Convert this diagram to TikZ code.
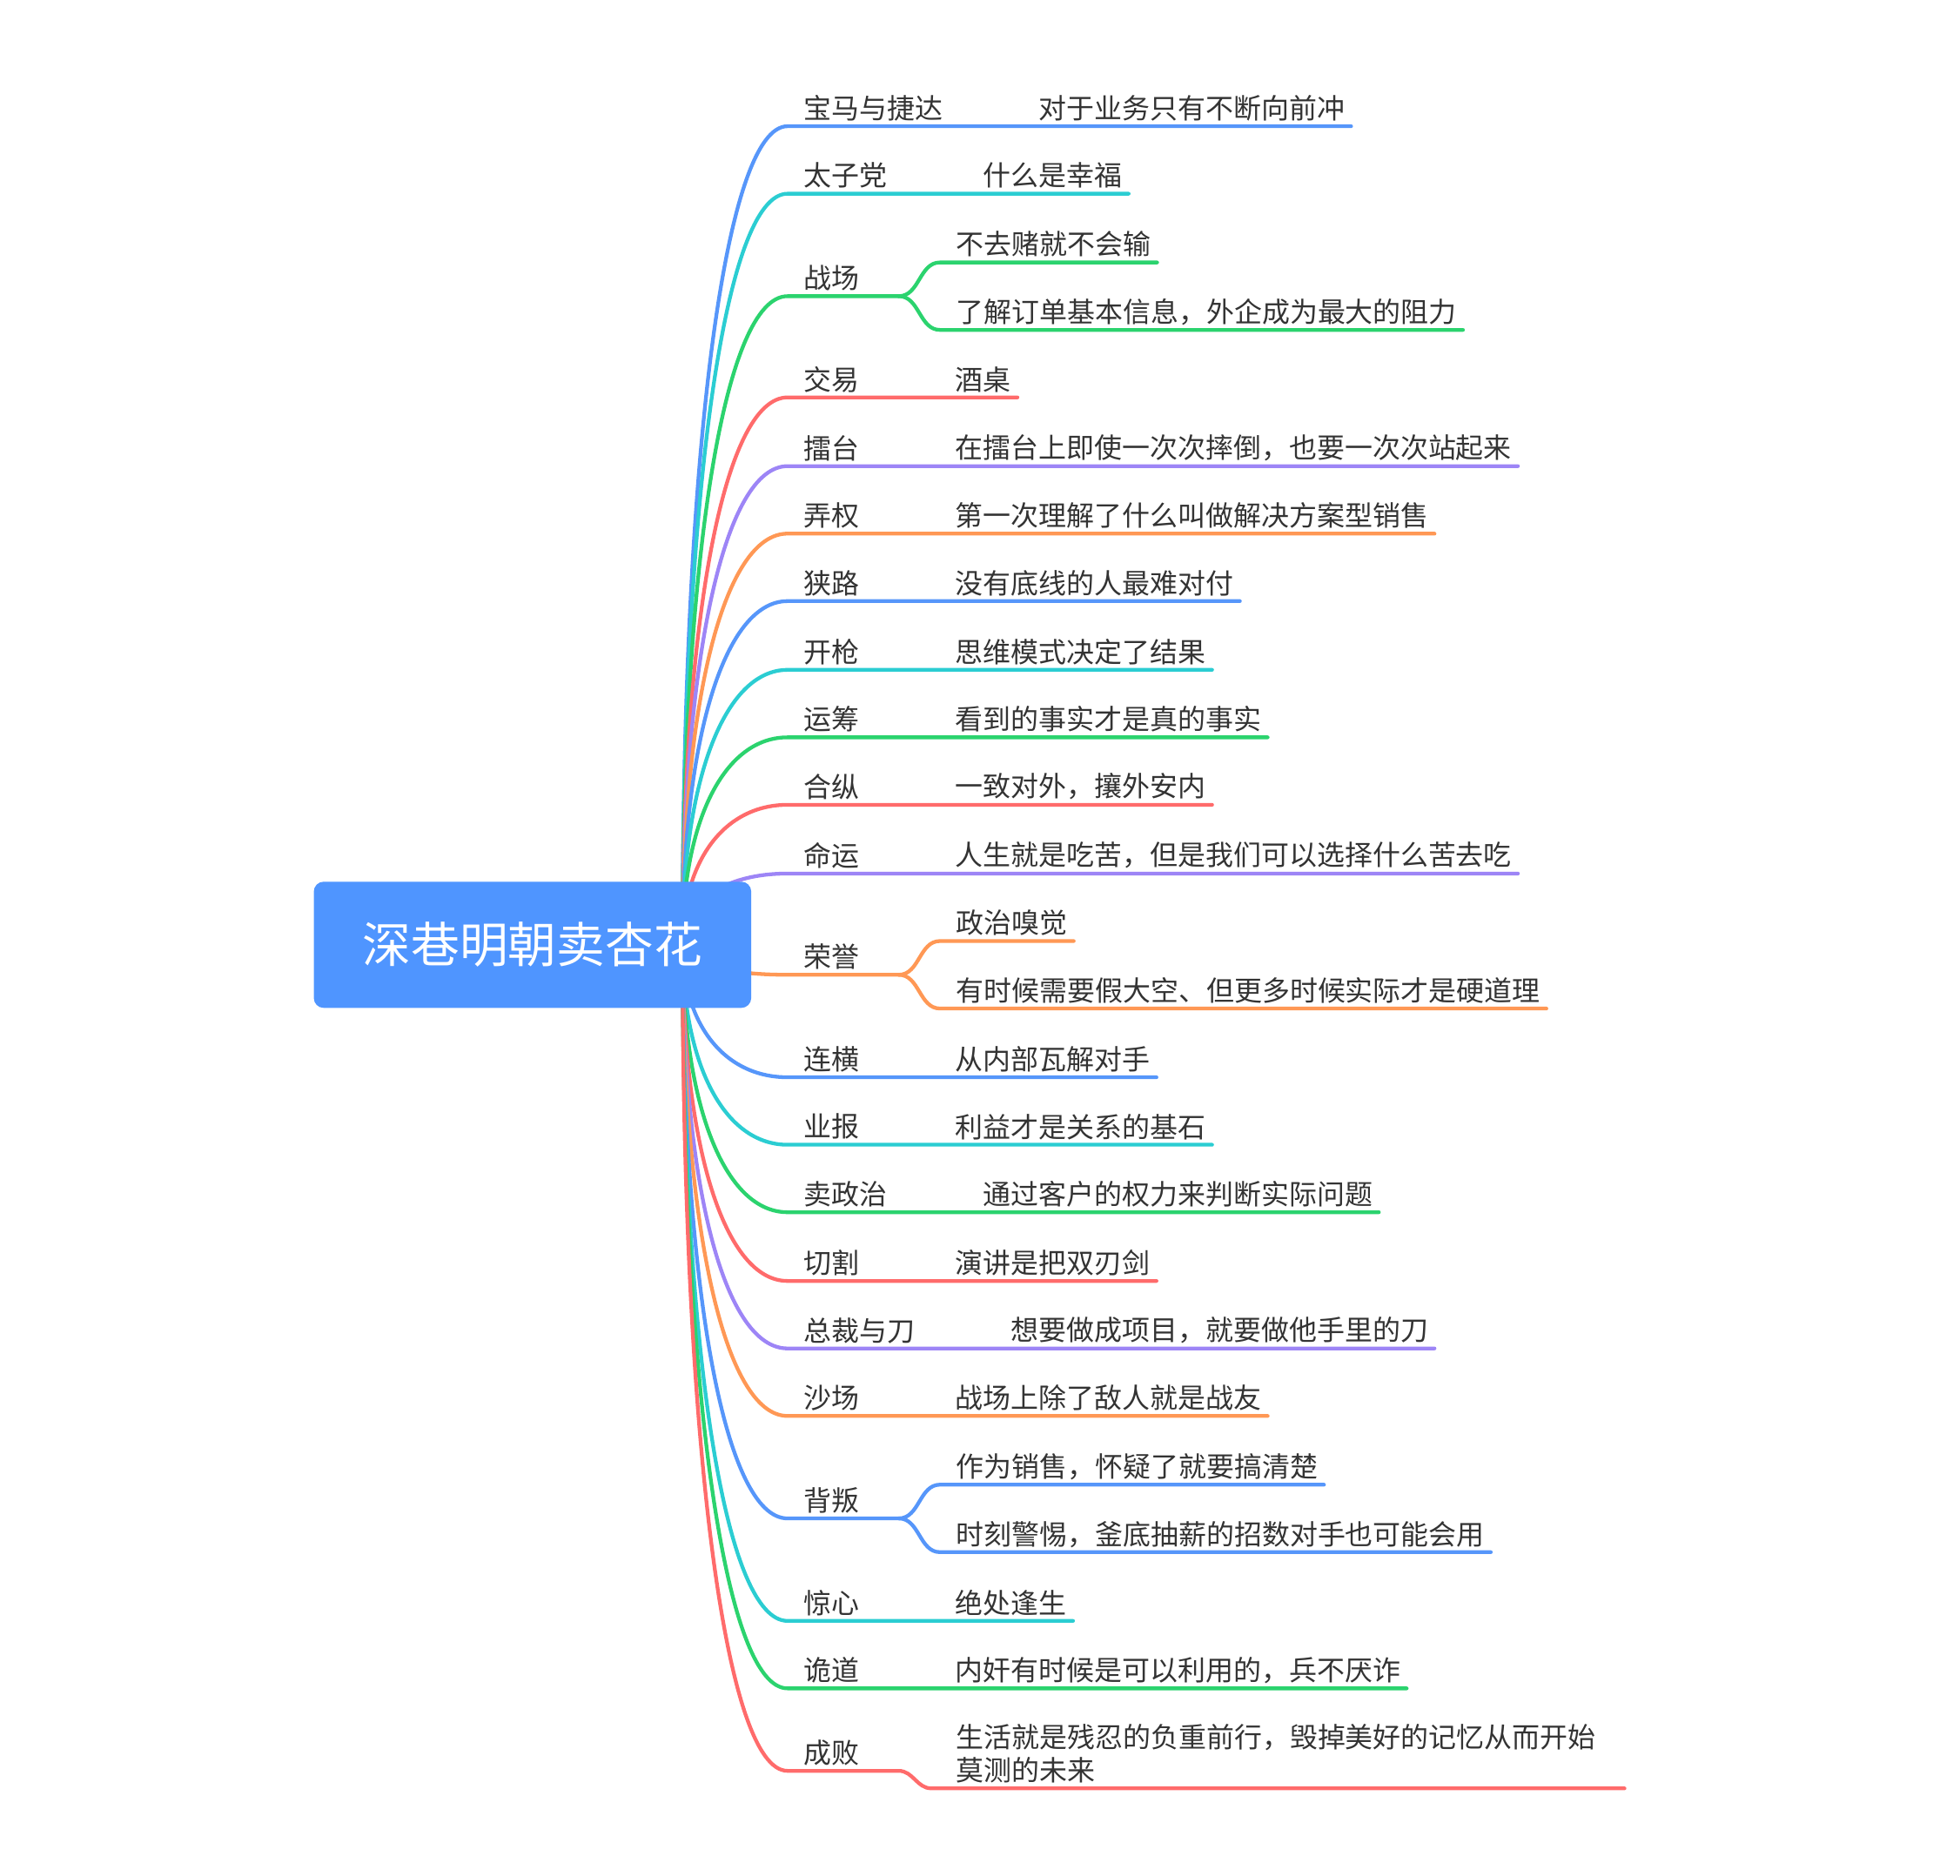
\documentclass[tikz,border=0pt]{standalone}
\usepackage{fontspec}
\setmainfont{Noto Sans CJK SC}
\usepackage{xcolor}
\definecolor{mmroot}{RGB}{79,149,255}
\definecolor{mmblue}{RGB}{86,150,250}
\definecolor{mmcyan}{RGB}{43,205,210}
\definecolor{mmgreen}{RGB}{43,211,110}
\definecolor{mmred}{RGB}{255,107,107}
\definecolor{mmpurple}{RGB}{157,133,246}
\definecolor{mmorange}{RGB}{255,152,85}
\definecolor{mmtext}{RGB}{51,51,51}
\usetikzlibrary{calc, positioning}

\begin{document}
\begin{tikzpicture}[
    x=0.02cm, y=-0.02cm,
    rama/.style={text=mmtext, font=\fontsize{12.66pt}{15.3pt}\selectfont, inner sep=0pt, outer sep=0pt},
    etiq/.style={rama, anchor=base west},
    hoja/.style={rama, right=1.54cm of #1},
    raiz/.style={fill=mmroot, text=white, rounded corners=4.5pt, minimum width=7cm, minimum height=2.02cm,
        inner sep=0pt, font=\fontsize{22.1pt}{26pt}\selectfont},
    linea/.style={line width=1.7pt, line cap=round, line join=round},
    lblue/.style={linea, draw=mmblue},
    lcyan/.style={linea, draw=mmcyan},
    lgreen/.style={linea, draw=mmgreen},
    lred/.style={linea, draw=mmred},
    lpurple/.style={linea, draw=mmpurple},
    lorange/.style={linea, draw=mmorange},
    trunk/.style={to path={.. controls ($(\tikztostart)!0.6!(\tikztostart |- \tikztotarget)$)
        and ($(\tikztotarget)!0.6!(\tikztostart |- \tikztotarget)$) .. (\tikztotarget)}}
]
\useasboundingbox (0,0) rectangle (1568,1501);

% === Punto de salida de todas las ramas (tapado por la raiz) ===
\coordinate (hub) at (546,756);

% === Ramas de arriba ===
% 1
\coordinate (b1) at (630,101);
\node[etiq] (l1) at (643,95) {宝马与捷达};
\node[hoja=l1] (c1) {对于业务只有不断向前冲};
\draw[lblue] (hub) to[trunk] (b1) -- ($(c1.east |- b1)+(5,0)$);

% 2
\coordinate (b2) at (630,155);
\node[etiq] (l2) at (643,149) {太子党};
\node[hoja=l2] (c2) {什么是幸福};
\draw[lcyan] (hub) to[trunk] (b2) -- ($(c2.east |- b2)+(5,0)$);

% 3 (dos hojas)
\coordinate (b3) at (630,237);
\coordinate (j3) at (719,237);
\coordinate (k3a) at (752,210);
\coordinate (k3b) at (752,264);
\node[etiq] (l3) at (643,231) {战场};
\node[etiq] (c3a) at (765,204) {不去赌就不会输};
\node[etiq] (c3b) at (765,258) {了解订单基本信息，外企成为最大的阻力};
\draw[lgreen] (hub) to[trunk] (b3) -- (j3);
\draw[lgreen] (j3) to[out=0, in=180] (k3a) -- ($(c3a.east |- k3a)+(5,0)$);
\draw[lgreen] (j3) to[out=0, in=180] (k3b) -- ($(c3b.east |- k3b)+(5,0)$);

% 4
\coordinate (b4) at (630,318);
\node[etiq] (l4) at (643,312) {交易};
\node[hoja=l4] (c4) {酒桌};
\draw[lred] (hub) to[trunk] (b4) -- ($(c4.east |- b4)+(5,0)$);

% 5
\coordinate (b5) at (630,373);
\node[etiq] (l5) at (643,367) {擂台};
\node[hoja=l5] (c5) {在擂台上即使一次次摔倒，也要一次次站起来};
\draw[lpurple] (hub) to[trunk] (b5) -- ($(c5.east |- b5)+(5,0)$);

% 6
\coordinate (b6) at (630,427);
\node[etiq] (l6) at (643,421) {弄权};
\node[hoja=l6] (c6) {第一次理解了什么叫做解决方案型销售};
\draw[lorange] (hub) to[trunk] (b6) -- ($(c6.east |- b6)+(5,0)$);

% 7
\coordinate (b7) at (630,481);
\node[etiq] (l7) at (643,475) {狭路};
\node[hoja=l7] (c7) {没有底线的人最难对付};
\draw[lblue] (hub) to[trunk] (b7) -- ($(c7.east |- b7)+(5,0)$);

% 8
\coordinate (b8) at (630,536);
\node[etiq] (l8) at (643,530) {开枪};
\node[hoja=l8] (c8) {思维模式决定了结果};
\draw[lcyan] (hub) to[trunk] (b8) -- ($(c8.east |- b8)+(5,0)$);

% 9
\coordinate (b9) at (630,590);
\node[etiq] (l9) at (643,584) {运筹};
\node[hoja=l9] (c9) {看到的事实才是真的事实};
\draw[lgreen] (hub) to[trunk] (b9) -- ($(c9.east |- b9)+(5,0)$);

% 10
\coordinate (b10) at (630,644);
\node[etiq] (l10) at (643,638) {合纵};
\node[hoja=l10] (c10) {一致对外，攘外安内};
\draw[lred] (hub) to[trunk] (b10) -- ($(c10.east |- b10)+(5,0)$);

% 11
\coordinate (b11) at (630,699);
\node[etiq] (l11) at (643,693) {命运};
\node[hoja=l11] (c11) {人生就是吃苦，但是我们可以选择什么苦去吃};
\draw[lpurple] (hub) to[trunk] (b11) -- ($(c11.east |- b11)+(5,0)$);

% === Ramas de abajo ===
% 12 (dos hojas)
\coordinate (b12) at (630,780);
\coordinate (j12) at (719,780);
\coordinate (k12a) at (752,753);
\coordinate (k12b) at (752,807);
\node[etiq] (l12) at (643,774) {荣誉};
\node[etiq] (c12a) at (765,747) {政治嗅觉};
\node[etiq] (c12b) at (765,801) {有时候需要假大空、但更多时候实际才是硬道理};
\draw[lorange] (hub) to[trunk] (b12) -- (j12);
\draw[lorange] (j12) to[out=0, in=180] (k12a) -- ($(c12a.east |- k12a)+(5,0)$);
\draw[lorange] (j12) to[out=0, in=180] (k12b) -- ($(c12b.east |- k12b)+(5,0)$);

% 13
\coordinate (b13) at (630,862);
\node[etiq] (l13) at (643,856) {连横};
\node[hoja=l13] (c13) {从内部瓦解对手};
\draw[lblue] (hub) to[trunk] (b13) -- ($(c13.east |- b13)+(5,0)$);

% 14
\coordinate (b14) at (630,916);
\node[etiq] (l14) at (643,910) {业报};
\node[hoja=l14] (c14) {利益才是关系的基石};
\draw[lcyan] (hub) to[trunk] (b14) -- ($(c14.east |- b14)+(5,0)$);

% 15
\coordinate (b15) at (630,970);
\node[etiq] (l15) at (643,964) {卖政治};
\node[hoja=l15] (c15) {通过客户的权力来判断实际问题};
\draw[lgreen] (hub) to[trunk] (b15) -- ($(c15.east |- b15)+(5,0)$);

% 16
\coordinate (b16) at (630,1025);
\node[etiq] (l16) at (643,1019) {切割};
\node[hoja=l16] (c16) {演讲是把双刃剑};
\draw[lred] (hub) to[trunk] (b16) -- ($(c16.east |- b16)+(5,0)$);

% 17
\coordinate (b17) at (630,1079);
\node[etiq] (l17) at (643,1073) {总裁与刀};
\node[hoja=l17] (c17) {想要做成项目，就要做他手里的刀};
\draw[lpurple] (hub) to[trunk] (b17) -- ($(c17.east |- b17)+(5,0)$);

% 18
\coordinate (b18) at (630,1133);
\node[etiq] (l18) at (643,1127) {沙场};
\node[hoja=l18] (c18) {战场上除了敌人就是战友};
\draw[lorange] (hub) to[trunk] (b18) -- ($(c18.east |- b18)+(5,0)$);

% 19 (dos hojas)
\coordinate (b19) at (630,1215);
\coordinate (j19) at (719,1215);
\coordinate (k19a) at (752,1188);
\coordinate (k19b) at (752,1242);
\node[etiq] (l19) at (643,1209) {背叛};
\node[etiq] (c19a) at (765,1182) {作为销售，怀疑了就要搞清楚};
\node[etiq] (c19b) at (765,1236) {时刻警惕，釜底抽薪的招数对手也可能会用};
\draw[lblue] (hub) to[trunk] (b19) -- (j19);
\draw[lblue] (j19) to[out=0, in=180] (k19a) -- ($(c19a.east |- k19a)+(5,0)$);
\draw[lblue] (j19) to[out=0, in=180] (k19b) -- ($(c19b.east |- k19b)+(5,0)$);

% 20
\coordinate (b20) at (630,1297);
\node[etiq] (l20) at (643,1291) {惊心};
\node[hoja=l20] (c20) {绝处逢生};
\draw[lcyan] (hub) to[trunk] (b20) -- ($(c20.east |- b20)+(5,0)$);

% 21
\coordinate (b21) at (630,1351);
\node[etiq] (l21) at (643,1345) {诡道};
\node[hoja=l21] (c21) {内奸有时候是可以利用的，兵不厌诈};
\draw[lgreen] (hub) to[trunk] (b21) -- ($(c21.east |- b21)+(5,0)$);

% 22 (hoja de dos lineas)
\coordinate (b22) at (630,1417);
\coordinate (j22) at (719,1417);
\coordinate (k22) at (745,1431);
\node[etiq] (l22) at (643,1411) {成败};
\node[rama, anchor=south west, align=left] (c22) at (765,1427)
    {生活就是残忍的负重前行，毁掉美好的记忆从而开始\\莫测的未来};
\draw[lred] (hub) to[trunk] (b22) -- (j22) to[out=0, in=180] (k22) -- ($(c22.east |- k22)+(23,0)$);

% === Raiz encima de todo ===
\node[raiz] (r) at (426,756) {深巷明朝卖杏花};

\end{tikzpicture}
\end{document}
